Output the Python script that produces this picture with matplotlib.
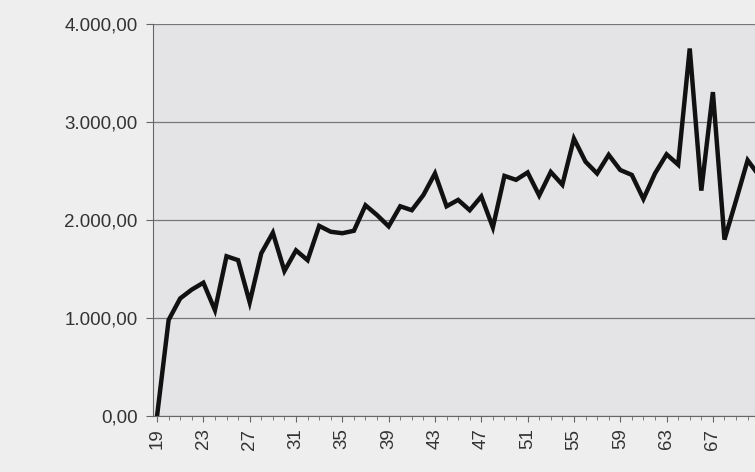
import matplotlib.pyplot as plt
from matplotlib.ticker import FuncFormatter, MultipleLocator

# Data (x = categoria, y = valor)
x_vals = list(range(19, 72))
y_vals = [0, 980, 1200, 1290, 1360, 1080, 1630, 1590, 1160, 1660,
          1870, 1480, 1690, 1590, 1940, 1880, 1865, 1890, 2150, 2050,
          1935, 2140, 2100, 2255, 2475, 2140, 2205, 2100, 2240, 1925,
          2450, 2410, 2485, 2250, 2490, 2360, 2830, 2595, 2475, 2665,
          2510, 2460, 2215, 2475, 2670, 2565, 3750, 2300, 3305, 1800,
          2200, 2610, 2450]
x_ticks = list(range(19, 68, 4))
y_ticks = [0, 1000, 2000, 3000, 4000]


def br_fmt(v, pos):
    s = f"{v:,.2f}"
    return s.replace(",", "X").replace(".", ",").replace("X", ".")


plt.rcParams['font.family'] = ['Liberation Sans', 'DejaVu Sans']

fig = plt.figure(figsize=(7.55, 4.72), dpi=100, facecolor='#eeeeee')
# axes run past the right edge, like the cropped scan
ax = fig.add_axes([153 / 755, 56 / 472, 1.0, 392 / 472])
ax.set_facecolor('#e4e4e6')

ax.plot(x_vals, y_vals, color='#111111', linewidth=3.2, solid_joinstyle='miter')

ax.set_xlim(18.65, 18.65 + 755 / 11.58)
ax.set_ylim(0, 4000)

ax.set_yticks(y_ticks)
ax.yaxis.set_major_formatter(FuncFormatter(br_fmt))
ax.set_xticks(x_ticks)
ax.set_xticklabels([str(t) for t in x_ticks], rotation=90)
ax.xaxis.set_minor_locator(MultipleLocator(1))

ax.grid(axis='y', color='#777777', linewidth=0.9)
ax.set_axisbelow(True)

for side in ['top', 'right']:
    ax.spines[side].set_visible(False)
ax.spines['left'].set_color('#666666')
ax.spines['bottom'].set_color('#666666')

ax.tick_params(axis='y', labelsize=13.5, labelcolor='#333333', color='#666666',
               length=5, pad=6)
ax.tick_params(axis='x', which='major', labelsize=13.5, labelcolor='#333333',
               color='#666666', length=4, pad=5)
ax.tick_params(axis='x', which='minor', color='#666666', length=3)

fig.savefig('out.png', dpi=100, facecolor=fig.get_facecolor())
